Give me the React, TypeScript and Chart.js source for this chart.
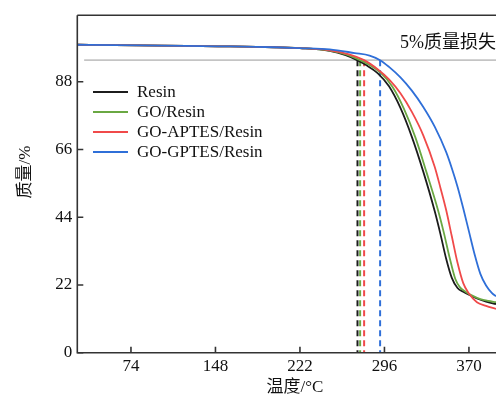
import React, { useEffect, useRef } from 'react';
import { Chart, registerables } from 'chart.js';

Chart.register(...registerables);

const X_TICKS = [74, 148, 222, 296, 370];
const Y_TICKS = [0, 22, 44, 66, 88];
const X_MIN = 27;
const X_MAX = 393.7;
const Y_MIN = 0;
const Y_MAX = 109.6;

const SERIES_LABELS = ['Resin', 'GO/Resin', 'GO-APTES/Resin', 'GO-GPTES/Resin'];
const SERIES_COLORS = ['#1c1c1c', '#6aa843', '#f04a4a', '#2f6fd8'];

const RESIN_T = [27, 60, 100, 150, 200, 222, 248, 262, 272, 280, 290, 300, 310, 320, 330, 340, 345, 350, 355, 360, 365, 370, 377, 385, 393.7];
const RESIN_M = [100, 99.9, 99.7, 99.5, 99.2, 98.9, 98.0, 96.6, 95, 93.4, 90.8, 86.5, 79.5, 70.1, 58.8, 46.0, 38.6, 30.6, 24.3, 21.0, 19.8, 18.8, 17.6, 16.6, 15.8];

const GO_T = [27, 60, 100, 150, 200, 222, 248, 263, 274.7, 283, 293, 303, 313, 323, 333, 343, 348, 353, 358, 362, 367, 372, 380, 387, 393.7];
const GO_M = [100, 99.9, 99.7, 99.5, 99.2, 98.9, 98.1, 96.8, 95, 93.4, 90.8, 86.4, 79.3, 70.0, 58.4, 46.2, 39.0, 31.0, 24.0, 21.3, 19.8, 18.7, 17.4, 16.8, 16.4];

const APTES_T = [27, 60, 100, 150, 200, 222, 248, 265, 278.2, 290, 300, 310, 320, 330, 340, 345, 350, 355, 360, 365, 370, 377, 385, 393.7];
const APTES_M = [100, 99.9, 99.7, 99.5, 99.2, 98.9, 98.2, 96.9, 95, 92.05, 88.75, 84.25, 78.2, 70.6, 60.4, 53.6, 46.4, 37.8, 29.2, 22.6, 19.2, 16.4, 15.2, 14.2];

const GPTES_T = [27, 60, 100, 150, 200, 222, 248, 270, 283, 292.2, 300, 310, 320, 330, 340, 350, 355, 360, 365, 370, 375, 380, 385, 390, 393.7];
const GPTES_M = [100, 99.9, 99.7, 99.5, 99.2, 98.9, 98.5, 97.3, 96.5, 95, 92.8, 89.4, 85.1, 79.8, 73.4, 65.2, 59.9, 53.9, 46.9, 39.4, 31.9, 25.6, 21.8, 19.4, 18.3];

const ONSET_T = [272.4, 274.7, 278.2, 292.2];
const LOSS_LEVEL = 95;
const LOSS_LINE_T = [33, 400];
const LOSS_TEXT = '5%质量损失';
const X_TITLE = '温度/°C';
const Y_TITLE = '质量/%';

const SERIF = "'Liberation Serif', 'Times New Roman', 'Noto Sans CJK SC', serif";

const zip = (xs: number[], ys: number[]) => xs.map((x, i) => ({ x, y: ys[i] }));

const framePlugin = {
  id: 'framePlugin',
  afterDraw(chart: any) {
    const { ctx, chartArea: a, scales } = chart;
    const xs = scales.x;
    const ys = scales.y;
    ctx.save();
    ctx.strokeStyle = '#333';
    ctx.lineWidth = 1.6;
    ctx.beginPath();
    ctx.moveTo(a.left, a.top);
    ctx.lineTo(a.right + 4, a.top);
    ctx.moveTo(a.left, a.top);
    ctx.lineTo(a.left, a.bottom);
    ctx.lineTo(a.right + 4, a.bottom);
    ctx.stroke();

    ctx.beginPath();
    X_TICKS.forEach((v) => {
      const px = xs.getPixelForValue(v);
      ctx.moveTo(px, a.bottom);
      ctx.lineTo(px, a.bottom - 6);
    });
    Y_TICKS.forEach((v) => {
      const py = ys.getPixelForValue(v);
      ctx.moveTo(a.left, py);
      ctx.lineTo(a.left + 6, py);
    });
    ctx.stroke();

    // legend
    ctx.font = `17px ${SERIF}`;
    ctx.textBaseline = 'middle';
    ctx.textAlign = 'left';
    SERIES_LABELS.forEach((lab, i) => {
      const yy = 92 + i * 20;
      ctx.strokeStyle = SERIES_COLORS[i];
      ctx.lineWidth = 2;
      ctx.beginPath();
      ctx.moveTo(93, yy);
      ctx.lineTo(128, yy);
      ctx.stroke();
      ctx.fillStyle = '#111';
      ctx.fillText(lab, 137, yy + 1);
    });

    // annotation
    ctx.fillStyle = '#111';
    ctx.font = `18px ${SERIF}`;
    ctx.fillText(LOSS_TEXT, 400, 43);

    // axis titles
    ctx.font = `17px ${SERIF}`;
    ctx.textAlign = 'center';
    ctx.fillText(X_TITLE, 295, 388);
    ctx.save();
    ctx.translate(26, 172);
    ctx.rotate(-Math.PI / 2);
    ctx.fillText(Y_TITLE, 0, 0);
    ctx.restore();

    ctx.restore();
  },
};

export default function App() {
  const ref = useRef<HTMLCanvasElement | null>(null);

  useEffect(() => {
    if (!ref.current) return;
    const curves = [
      zip(RESIN_T, RESIN_M),
      zip(GO_T, GO_M),
      zip(APTES_T, APTES_M),
      zip(GPTES_T, GPTES_M),
    ];
    const datasets: any[] = [];
    curves.forEach((d, i) => {
      datasets.push({
        label: SERIES_LABELS[i],
        data: d,
        borderColor: SERIES_COLORS[i],
        borderWidth: 1.8,
        pointRadius: 0,
        cubicInterpolationMode: 'monotone',
        fill: false,
        order: 4 - i,
      });
    });
    ONSET_T.forEach((t, i) => {
      datasets.push({
        label: 'onset-' + SERIES_LABELS[i],
        data: [
          { x: t, y: LOSS_LEVEL },
          { x: t, y: Y_MIN },
        ],
        borderColor: SERIES_COLORS[i],
        borderWidth: 2,
        borderDash: [6, 4],
        pointRadius: 0,
        fill: false,
        order: 10,
      });
    });
    datasets.push({
      label: 'loss',
      data: LOSS_LINE_T.map((t) => ({ x: t, y: LOSS_LEVEL })),
      borderColor: '#c4c4c4',
      borderWidth: 1.6,
      pointRadius: 0,
      fill: false,
      order: 20,
    });

    const tickFont = { family: SERIF, size: 17 };
    const chart = new Chart(ref.current, {
      type: 'line',
      data: { datasets },
      plugins: [framePlugin],
      options: {
        animation: false,
        responsive: false,
        devicePixelRatio: 1,
        layout: { padding: { top: 11, left: 0, right: 0, bottom: 0 } },
        plugins: { legend: { display: false }, tooltip: { enabled: false } },
        elements: { point: { radius: 0 } },
        scales: {
          x: {
            type: 'linear',
            min: X_MIN,
            max: X_MAX,
            grid: { display: false, drawTicks: false },
            border: { display: false },
            afterBuildTicks: (s: any) => {
              s.ticks = X_TICKS.map((v) => ({ value: v }));
            },
            afterFit: (s: any) => {
              s.height = 49.3;
            },
            ticks: {
              padding: 4,
              color: '#111',
              font: tickFont,
              maxRotation: 0,
              autoSkip: false,
            },
          },
          y: {
            type: 'linear',
            min: Y_MIN,
            max: Y_MAX,
            grid: { display: false, drawTicks: false },
            border: { display: false },
            afterBuildTicks: (s: any) => {
              s.ticks = Y_TICKS.map((v) => ({ value: v }));
            },
            afterFit: (s: any) => {
              s.width = 77.3;
            },
            ticks: {
              padding: 5,
              color: '#111',
              font: tickFont,
              autoSkip: false,
            },
          },
        },
      } as any,
    });
    return () => chart.destroy();
  }, []);

  return (
    <div style={{ position: 'fixed', left: 0, top: 0, width: 496, height: 402, overflow: 'hidden', background: '#fff' }}>
      <canvas ref={ref} width={496} height={402} style={{ display: 'block' }} />
    </div>
  );
}
